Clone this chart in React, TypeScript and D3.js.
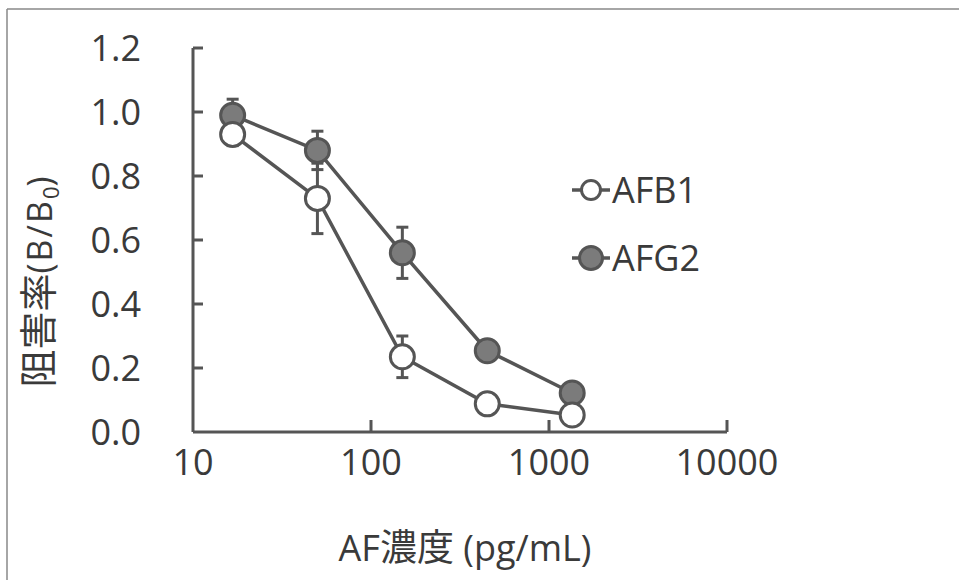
import React, { useEffect, useRef } from "react";
import * as d3 from "d3";

const concentrations = [16.7, 50, 150, 450, 1350];
const afb1Values = [0.93, 0.73, 0.235, 0.088, 0.053];
const afb1Errors = [0.035, 0.11, 0.065, 0.012, 0.01];
const afg2Values = [0.99, 0.88, 0.56, 0.254, 0.122];
const afg2Errors = [0.05, 0.06, 0.08, 0.015, 0.012];
const xTicks = [10, 100, 1000, 10000];
const yTicks = [0, 0.2, 0.4, 0.6, 0.8, 1.0, 1.2];
const seriesNames = ["AFB1", "AFG2"];

const INK = "#555";
const FILL = "#7b7b7b";
const TEXT = "#3a3a3a";
const NUM_FONT = "'Open Sans', 'Noto Sans', sans-serif";
const CJK_FONT = "'Noto Sans CJK JP', 'Noto Sans', sans-serif";

const Chart = () => {
  const ref = useRef(null);

  useEffect(() => {
    draw();
  }, []);

  const draw = () => {
    const svg = d3.select(ref.current);
    svg.selectAll("*").remove();

    const x = d3.scaleLog().domain([10, 10000]).range([193, 727]);
    const y = d3.scaleLinear().domain([0, 1.2]).range([432, 48]);

    // frame (only top and left edges show in the scan)
    svg.append("line").attr("x1", 7).attr("x2", 959).attr("y1", 9).attr("y2", 9)
      .attr("stroke", "#888").attr("stroke-width", 1.5);
    svg.append("line").attr("x1", 7).attr("x2", 7).attr("y1", 9).attr("y2", 580)
      .attr("stroke", "#888").attr("stroke-width", 1.5);

    // axes
    const axes = svg.append("g").attr("stroke", INK).attr("stroke-width", 3).attr("fill", "none");
    axes.append("line").attr("x1", x(10)).attr("x2", x(10)).attr("y1", y(1.2)).attr("y2", y(0));
    axes.append("line").attr("x1", x(10)).attr("x2", x(10000)).attr("y1", y(0)).attr("y2", y(0));
    yTicks.filter((t) => t > 0).forEach((t) => {
      axes.append("line").attr("x1", x(10)).attr("x2", x(10) + 10).attr("y1", y(t)).attr("y2", y(t));
    });
    xTicks.filter((t) => t > 10).forEach((t) => {
      axes.append("line").attr("x1", x(t)).attr("x2", x(t)).attr("y1", y(0)).attr("y2", y(0) - 12);
    });

    svg.append("g").selectAll("text").data(yTicks).enter().append("text")
      .attr("x", 141).attr("y", (d) => y(d)).attr("dy", "0.36em")
      .attr("text-anchor", "end").attr("font-family", NUM_FONT).attr("font-size", 36).attr("fill", TEXT)
      .text((d) => d3.format(".1f")(d));

    svg.append("g").selectAll("text").data(xTicks).enter().append("text")
      .attr("x", (d) => x(d)).attr("y", 462).attr("dy", "0.36em")
      .attr("text-anchor", "middle").attr("font-family", NUM_FONT).attr("font-size", 36).attr("fill", TEXT)
      .text((d) => String(d));

    // axis titles
    const xt = svg.append("text").attr("x", 465).attr("y", 548).attr("dy", "0.36em")
      .attr("text-anchor", "middle").attr("font-size", 36).attr("fill", TEXT);
    xt.append("tspan").attr("font-family", NUM_FONT).text("AF");
    xt.append("tspan").attr("font-family", CJK_FONT).attr("font-size", 37).text("濃度");
    xt.append("tspan").attr("font-family", NUM_FONT).text(" (pg/mL)");

    const yt = svg.append("text").attr("transform", "translate(40,282) rotate(-90)")
      .attr("text-anchor", "middle").attr("dy", "0.36em").attr("font-size", 34).attr("fill", TEXT);
    yt.append("tspan").attr("font-family", CJK_FONT).attr("font-size", 38).text("阻害率");
    yt.append("tspan").attr("font-family", NUM_FONT).attr("letter-spacing", 2).text("(B/B");
    yt.append("tspan").attr("font-family", NUM_FONT).attr("font-size", 22).attr("dy", "0.3em").text("0");
    yt.append("tspan").attr("font-family", NUM_FONT).attr("dy", "-0.2em").text(")");

    const series = [
      { name: seriesNames[1], values: afg2Values, errors: afg2Errors, fill: FILL },
      { name: seriesNames[0], values: afb1Values, errors: afb1Errors, fill: "#fff" },
    ];

    const line = d3.line().x((d) => x(d[0])).y((d) => y(d[1]));

    series.forEach((s) => {
      const pts = concentrations.map((c, i) => [c, s.values[i]]);
      svg.append("path").attr("d", line(pts)).attr("fill", "none")
        .attr("stroke", INK).attr("stroke-width", 3.5);
    });

    series.forEach((s) => {
      const g = svg.append("g").attr("stroke", INK).attr("stroke-width", 3);
      concentrations.forEach((c, i) => {
        const cx = x(c);
        const top = y(s.values[i] + s.errors[i]);
        const bot = y(s.values[i] - s.errors[i]);
        g.append("line").attr("x1", cx).attr("x2", cx).attr("y1", top).attr("y2", bot);
        g.append("line").attr("x1", cx - 6).attr("x2", cx + 6).attr("y1", top).attr("y2", top);
        g.append("line").attr("x1", cx - 6).attr("x2", cx + 6).attr("y1", bot).attr("y2", bot);
      });
    });

    series.forEach((s) => {
      svg.append("g").selectAll("circle").data(concentrations).enter().append("circle")
        .attr("cx", (d) => x(d)).attr("cy", (d, i) => y(s.values[i]))
        .attr("r", 12).attr("fill", s.fill).attr("stroke", INK).attr("stroke-width", 3);
    });

    // legend
    const legend = [
      { name: seriesNames[0], fill: "#fff", cy: 190, r: 9.5 },
      { name: seriesNames[1], fill: FILL, cy: 258, r: 11.5 },
    ];
    legend.forEach((l) => {
      svg.append("line").attr("x1", 572).attr("x2", 610).attr("y1", l.cy).attr("y2", l.cy)
        .attr("stroke", INK).attr("stroke-width", 3.5);
      svg.append("circle").attr("cx", 591).attr("cy", l.cy).attr("r", l.r)
        .attr("fill", l.fill).attr("stroke", INK).attr("stroke-width", 3);
      svg.append("text").attr("x", 612).attr("y", l.cy).attr("dy", "0.36em")
        .attr("font-family", NUM_FONT).attr("font-size", 36).attr("fill", TEXT).text(l.name);
    });
  };

  return <svg ref={ref} width={959} height={580} style={{ display: "block" }}></svg>;
};

export default function App() {
  return (
    <div style={{ position: "absolute", left: 0, top: 0, background: "#fff" }}>
      <Chart />
    </div>
  );
}
